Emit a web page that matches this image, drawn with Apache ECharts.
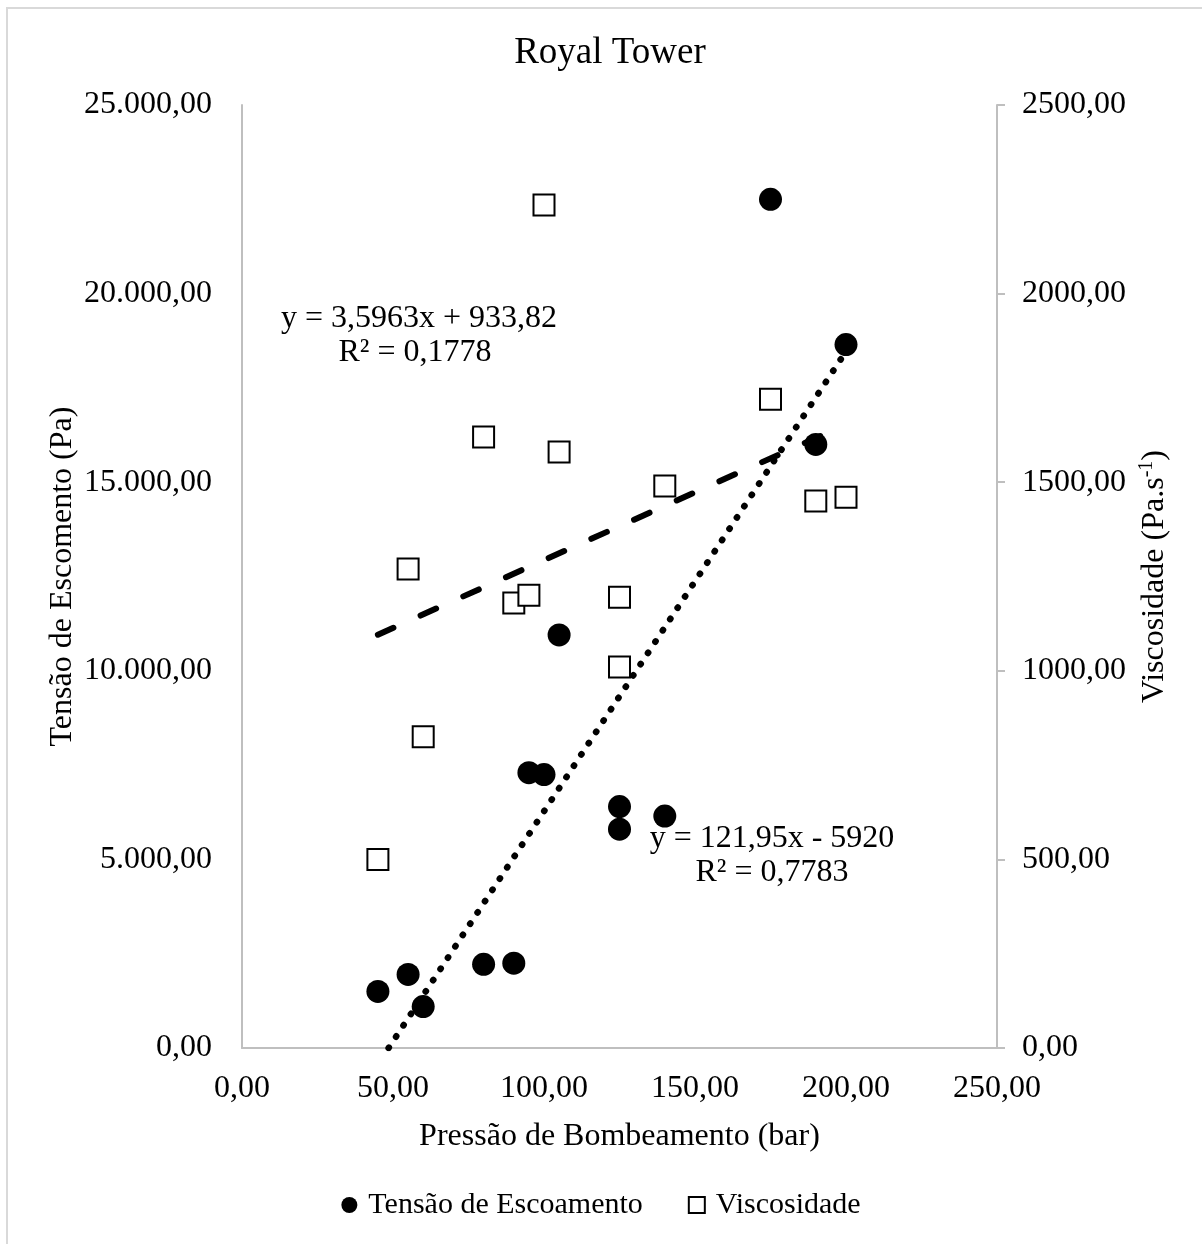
<!DOCTYPE html>
<html>
<head>
<meta charset="utf-8">
<script src="https://cdn.jsdelivr.net/npm/echarts@6/dist/echarts.min.js"></script>
<style>
  html, body { margin: 0; padding: 0; background: #fff; }
  #chart { width: 1202px; height: 1244px; }
</style>
</head>
<body>
<div id="chart"></div>
<script>
// ---- data ----
const pressao = [45, 55, 60, 80, 90, 95, 100, 105, 125, 125, 140, 175, 190, 200];
const tensao = [1500, 1950, 1100, 2220, 2250, 7300, 7250, 10950, 6400, 5800, 6150, 22500, 16000, 18650];
const viscosidade = [500, 1270, 825, 1620, 1180, 1200, 2235, 1580, 1195, 1010, 1490, 1720, 1450, 1460];

// trendline coefficients as printed on the chart
const trendTensao = { a: 121.95, b: -5920 };
const trendVisc = { a: 3.5963, b: 933.82 };

const seriesNames = ['Tensão de Escoamento', 'Viscosidade'];
const eqTensao = ['y = 121,95x - 5920', 'R² = 0,7783'];
const eqVisc = ['y = 3,5963x + 933,82', 'R² = 0,1778'];

const xTicks = { min: 0, max: 250, interval: 50 };
const yLeftTicks = { min: 0, max: 25000, interval: 5000 };
const yRightTicks = { min: 0, max: 2500, interval: 500 };

// ---- helpers ----
function fmt(v, thousands) {
  const parts = v.toFixed(2).split('.');
  let int = parts[0];
  if (thousands) int = int.replace(/\B(?=(\d{3})+(?!\d))/g, '.');
  return int + ',' + parts[1];
}
const xMinData = Math.min.apply(null, pressao);
const xMaxData = Math.max.apply(null, pressao);
function trendPts(t) {
  let x0 = xMinData;
  if (t.a * x0 + t.b < 0) x0 = -t.b / t.a; // start where the line enters the plot (y = 0)
  return [[x0, t.a * x0 + t.b], [xMaxData, t.a * xMaxData + t.b]];
}

const FONT = 'Liberation Serif';
const axisColor = '#bfbfbf';
const eqFont = '32px "Liberation Serif"';

const chart = echarts.init(document.getElementById('chart'));
chart.setOption({
  backgroundColor: '#fff',
  animation: false,
  title: {
    text: 'Royal Tower',
    left: 605,
    textAlign: 'center',
    top: 30,
    textStyle: { fontFamily: FONT, fontSize: 37, fontWeight: 'normal', color: '#000' }
  },
  legend: {
    data: seriesNames,
    bottom: 19,
    left: 'center',
    itemWidth: 16,
    itemHeight: 16,
    itemGap: 45,
    textStyle: { fontFamily: FONT, fontSize: 30, color: '#000', padding: [0, 0, 0, 6] }
  },
  grid: { left: 242, right: 205, top: 105, bottom: 196, containLabel: false },
  xAxis: {
    type: 'value',
    min: xTicks.min, max: xTicks.max, interval: xTicks.interval,
    name: 'Pressão de Bombeamento (bar)',
    nameLocation: 'middle',
    nameGap: 73,
    nameTextStyle: { fontFamily: FONT, fontSize: 32, color: '#000' },
    axisLine: { show: true, lineStyle: { color: axisColor, width: 2 } },
    axisTick: { show: false },
    splitLine: { show: false },
    axisLabel: { fontFamily: FONT, fontSize: 32, color: '#000', margin: 25, formatter: v => fmt(v, false) }
  },
  yAxis: [
    {
      type: 'value',
      position: 'left',
      min: yLeftTicks.min, max: yLeftTicks.max, interval: yLeftTicks.interval,
      name: 'Tensão de Escomento (Pa)',
      nameLocation: 'middle',
      nameRotate: 90,
      nameGap: 163,
      nameMoveOverlap: false,
      nameTextStyle: { fontFamily: FONT, fontSize: 32, color: '#000' },
      axisLine: { show: true, lineStyle: { color: axisColor, width: 2 } },
      axisTick: { show: false },
      splitLine: { show: false },
      axisLabel: { fontFamily: FONT, fontSize: 32, color: '#000', margin: 30, padding: [10, 0, 0, 0], formatter: v => fmt(v, true) }
    },
    {
      type: 'value',
      position: 'right',
      min: yRightTicks.min, max: yRightTicks.max, interval: yRightTicks.interval,
      name: '{n|Viscosidade (Pa.s}{s|-1}{n|)}',
      nameLocation: 'middle',
      nameRotate: 90,
      nameGap: 140,
      nameTextStyle: {
        fontFamily: FONT, fontSize: 32, color: '#000',
        rich: {
          n: { fontFamily: FONT, fontSize: 32, color: '#000', lineHeight: 36 },
          s: { fontFamily: FONT, fontSize: 20, color: '#000', verticalAlign: 'top', lineHeight: 36 }
        }
      },
      axisLine: { show: true, lineStyle: { color: axisColor, width: 2 } },
      axisTick: { show: true, length: 8, lineStyle: { color: axisColor, width: 2 } },
      splitLine: { show: false },
      axisLabel: { fontFamily: FONT, fontSize: 32, color: '#000', margin: 25, padding: [10, 0, 0, 0], formatter: v => fmt(v, false) }
    }
  ],
  graphic: [
    { type: 'rect', silent: true, shape: { x: 7, y: 8, width: 1400, height: 1400 },
      style: { fill: 'none', stroke: '#d9d9d9', lineWidth: 2 } },
    { type: 'text', silent: true, x: 419, y: 319,
      style: { text: eqVisc[0], font: eqFont, fill: '#000', align: 'center', verticalAlign: 'middle' } },
    { type: 'text', silent: true, x: 415, y: 353,
      style: { text: eqVisc[1], font: eqFont, fill: '#000', align: 'center', verticalAlign: 'middle' } },
    { type: 'text', silent: true, x: 772, y: 839,
      style: { text: eqTensao[0], font: eqFont, fill: '#000', align: 'center', verticalAlign: 'middle' } },
    { type: 'text', silent: true, x: 772, y: 873,
      style: { text: eqTensao[1], font: eqFont, fill: '#000', align: 'center', verticalAlign: 'middle' } }
  ],
  series: [
    {
      name: seriesNames[0],
      type: 'scatter',
      yAxisIndex: 0,
      symbol: 'circle',
      symbolSize: 23,
      itemStyle: { color: '#000', opacity: 1 },
      data: pressao.map((x, i) => [x, tensao[i]]),
      z: 3
    },
    {
      name: seriesNames[1],
      type: 'scatter',
      yAxisIndex: 1,
      symbol: 'rect',
      symbolSize: 21,
      itemStyle: { color: '#fff', borderColor: '#000', borderWidth: 2, opacity: 1 },
      data: pressao.map((x, i) => [x, viscosidade[i]]),
      z: 3
    },
    {
      name: 'trend-visc',
      type: 'line',
      yAxisIndex: 1,
      showSymbol: false,
      symbol: 'none',
      silent: true,
      clip: true,
      lineStyle: { color: '#000', width: 6, type: [17, 29.8], cap: 'round' },
      data: trendPts(trendVisc),
      z: 2
    },
    {
      name: 'trend-tensao',
      type: 'line',
      yAxisIndex: 0,
      showSymbol: false,
      symbol: 'none',
      silent: true,
      clip: true,
      lineStyle: { color: '#000', width: 6.5, type: [0.5, 13], cap: 'round' },
      data: trendPts(trendTensao),
      z: 2
    }
  ]
});
</script>
</body>
</html>
